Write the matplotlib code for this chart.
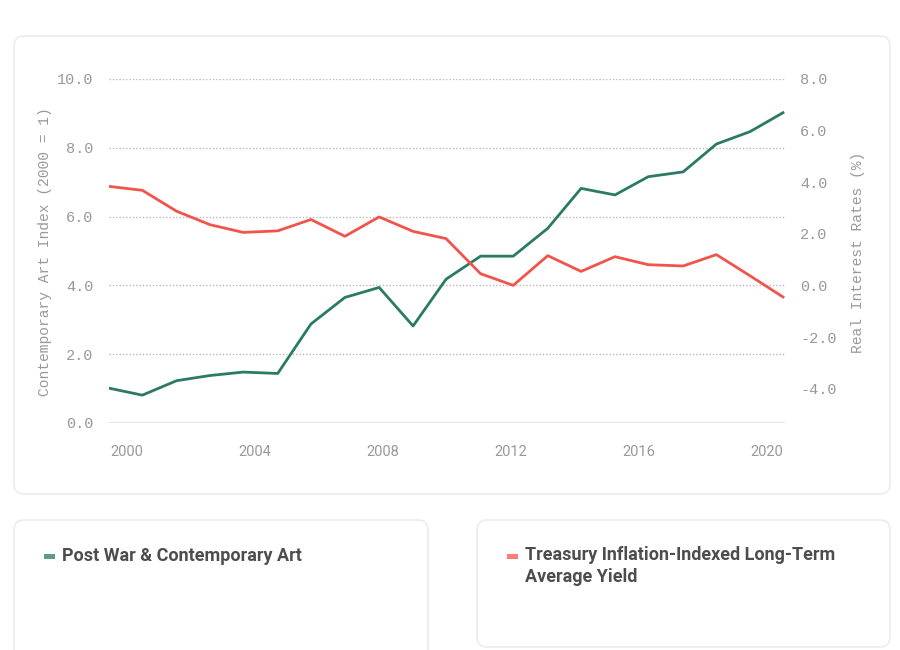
import matplotlib.pyplot as plt
from matplotlib.patches import FancyBboxPatch, Rectangle

plt.rcParams['axes.unicode_minus'] = False

# x positions (fractional years)
years = [1999.45, 2000.48, 2001.55, 2002.59, 2003.63, 2004.71, 2005.75,
         2006.81, 2007.88, 2008.94, 2009.97, 2011.05, 2012.07, 2013.15,
         2014.19, 2015.25, 2016.29, 2017.38, 2018.42, 2019.47, 2020.50]

art_index = [1.01, 0.81, 1.23, 1.38, 1.48, 1.44, 2.88, 3.65, 3.94, 2.82, 4.18,
             4.85, 4.85, 5.66, 6.82, 6.63, 7.16, 7.30, 8.11, 8.47, 9.02]

real_rates = [3.84, 3.69, 2.88, 2.36, 2.06, 2.12, 2.56, 1.91, 2.66, 2.10, 1.82,
              0.46, 0.01, 1.16, 0.55, 1.12, 0.81, 0.76, 1.20, 0.38, -0.44]

x_ticks = [2000, 2004, 2008, 2012, 2016, 2020]
left_ticks = [0, 2, 4, 6, 8, 10]
right_ticks = [-4, -2, 0, 2, 4, 6, 8]

art_label = 'Post War & Contemporary Art'
rate_label = 'Treasury Inflation-Indexed Long-Term\nAverage Yield'

green = '#2b7a66'
red = '#f0544b'
tick_grey = '#999999'
mono = 'Liberation Mono'

# ---------------------------------------------------------------- #

fig = plt.figure(figsize=(9, 6.5), dpi=100)
fig.patch.set_facecolor('white')

# background layer in pixel units for the cards and free text
bg = fig.add_axes([0, 0, 1, 1])
bg.set_xlim(0, 900)
bg.set_ylim(650, 0)
bg.axis('off')

for x0, y0, w, h in [(14, 36, 876, 458), (14, 520, 414, 150), (477, 520, 413, 127)]:
    bg.add_patch(FancyBboxPatch((x0, y0), w, h,
                                boxstyle='round,pad=0,rounding_size=10',
                                fc='white', ec='#ededed', lw=1.3))

bg.text(45, 252, 'Contemporary Art Index (2000 = 1)', rotation=90,
        ha='center', va='center', family=mono, fontsize=10.5, color=tick_grey)
bg.text(858, 252, 'Real Interest Rates (%)', rotation=90,
        ha='center', va='center', family=mono, fontsize=10.5, color=tick_grey)

# legend cards
bg.add_patch(Rectangle((44, 554), 11, 4.5, color=green, alpha=0.75, lw=0))
bg.text(62, 556, art_label, ha='left', va='center', family='Roboto',
        fontsize=13, fontweight='bold', color='#4d4d4d')
bg.add_patch(Rectangle((507, 554), 11, 4.5, color=red, alpha=0.75, lw=0))
bg.text(525, 546, rate_label, ha='left', va='top', family='Roboto',
        fontsize=13, fontweight='bold', color='#4d4d4d', linespacing=1.3)

# ---------------------------------------------------------------- #

ax = fig.add_axes([109 / 900, 1 - 423 / 650, 676 / 900, 344 / 650])
ax.patch.set_alpha(0)
ax2 = ax.twinx()

ax.plot(years, art_index, color=green, lw=2, solid_joinstyle='round', zorder=3)
ax2.plot(years, real_rates, color=red, lw=2, solid_joinstyle='round', zorder=3)

ax.set_xlim(1999.4375, 2020.5625)
ax.set_ylim(0, 10)
ax2.set_ylim(-5.32, 8)

for t in left_ticks[1:]:
    ax.axhline(t, color='#b8b8b8', lw=1.0, ls=(0, (1, 1.4)), zorder=1)
ax.axhline(0, color='#e6e6e6', lw=1.5, zorder=1)

ax.set_xticks(x_ticks)
ax.set_xticklabels([str(t) for t in x_ticks], family='Roboto', fontsize=10.5)
ax.set_yticks(left_ticks)
ax.set_yticklabels([f'{t:.1f}' for t in left_ticks], family=mono, fontsize=11)
ax2.set_yticks(right_ticks)
ax2.set_yticklabels([f'{t:.1f}' for t in right_ticks], family=mono, fontsize=11)

ax.tick_params(axis='x', length=0, pad=16, colors=tick_grey)
ax.tick_params(axis='y', length=0, pad=11, colors=tick_grey)
ax2.tick_params(axis='y', length=0, pad=11, colors=tick_grey)

for a in (ax, ax2):
    for s in a.spines.values():
        s.set_visible(False)

fig.savefig('out.png', dpi=100)
